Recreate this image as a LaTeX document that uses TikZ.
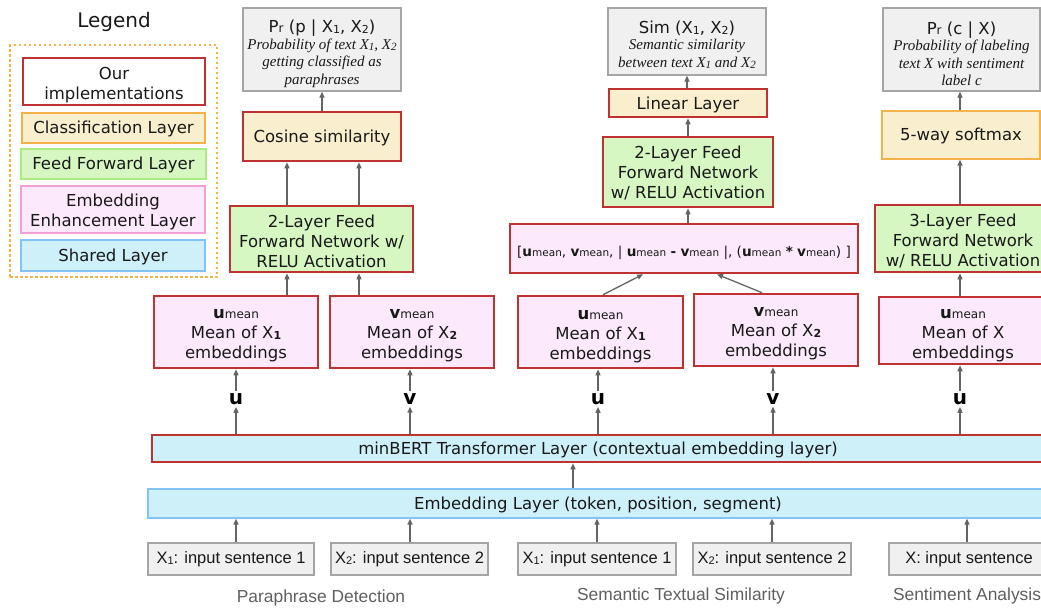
\documentclass[tikz,border=0pt]{standalone}
\usepackage{fontspec}
\setmainfont{DejaVu Sans}
\newfontfamily\arialf{Liberation Sans}
\newfontfamily\serifit{Liberation Serif}
\usetikzlibrary{arrows.meta}
\definecolor{redb}{RGB}{192,50,50}
\definecolor{clsf}{RGB}{249,238,206}
\definecolor{clsb}{RGB}{245,178,70}
\definecolor{fff}{RGB}{214,246,194}
\definecolor{ffb}{RGB}{170,235,130}
\definecolor{emf}{RGB}{253,233,252}
\definecolor{emb}{RGB}{240,160,210}
\definecolor{shf}{RGB}{206,240,249}
\definecolor{shb}{RGB}{130,195,245}
\definecolor{outf}{RGB}{240,240,240}
\definecolor{outb}{RGB}{165,165,165}
\definecolor{arrc}{RGB}{100,100,100}
\definecolor{textc}{RGB}{25,25,25}
\definecolor{taskc}{RGB}{95,95,95}
\newcommand\sbs[1]{\raisebox{-1pt}{\fontsize{11}{11}\selectfont #1}}
\newcommand\um{\textbf{u}{\fontsize{12}{12}\selectfont mean}}
\newcommand\vm{\textbf{v}{\fontsize{12}{12}\selectfont mean}}
\newcommand\umc{\textbf{u}{\fontsize{10.5}{10.5}\selectfont mean}}
\newcommand\vmc{\textbf{v}{\fontsize{10.5}{10.5}\selectfont mean}}
\newcommand\itl{\serifit\itshape\fontsize{15}{17.5}\selectfont}
\newcommand\up[1]{\rule{0pt}{#1}}
\begin{document}
\begin{tikzpicture}[x=1pt,y=-1pt,
  box/.style={rectangle, inner sep=0pt, align=center, text=textc, font=\fontsize{16.5}{20}\selectfont},
  ours/.style={draw=redb, line width=2.6pt},
  cls/.style={box, fill=clsf, draw=clsb, line width=1.3pt},
  ffn/.style={box, fill=fff, draw=ffb, line width=1.3pt},
  enh/.style={box, fill=emf, draw=emb, line width=1.3pt},
  shr/.style={box, fill=shf, draw=shb, line width=1.3pt},
  outbox/.style={box, fill=outf, draw=outb, line width=1.3pt, font=\fontsize{16.5}{17.5}\selectfont},
  inbox/.style={box, fill=outf, draw=outb, line width=1.3pt, font=\arialf\fontsize{16.5}{20}\selectfont},
  lbl/.style={inner sep=2pt, text=black, font=\bfseries\fontsize{20}{20}\selectfont},
  task/.style={text=taskc, font=\arialf\fontsize{17.4}{20}\selectfont},
  arr/.style={draw=arrc, line width=1.3pt, -{Triangle[length=6pt,width=5pt]}}
]
\useasboundingbox (0,0) rectangle (1041,608);

% ---------------- Legend
\node[text=textc, font=\fontsize{20}{24}\selectfont] (legt) at (114,22) {Legend};
\node[draw=clsb, line width=1.2pt, dash pattern=on 2.5pt off 2.5pt, minimum width=207pt, minimum height=232pt, inner sep=0pt] (legb) at (113.5,161) {};
\node[box, fill=white, ours, minimum width=182pt, minimum height=47pt] (l1) at (114,81.5) {\up{19pt}Our\\implementations};
\node[cls, minimum width=183pt, minimum height=30pt, text height=13pt, text depth=2pt] (l2) at (113.5,128) {Classification Layer};
\node[ffn, minimum width=185pt, minimum height=30pt, text height=13pt, text depth=2pt] (l3) at (113.5,164) {Feed Forward Layer};
\node[enh, minimum width=184pt, minimum height=47pt] (l4) at (113,209.5) {\up{18pt}Embedding\\Enhancement Layer};
\node[shr, minimum width=184pt, minimum height=31pt, text height=13pt, text depth=2pt] (l5) at (113,255.5) {Shared Layer};

% ---------------- Paraphrase detection
\node[outbox, minimum width=158pt, minimum height=83pt] (pout) at (322,49.5)
  {\up{21pt}P{\fontsize{12}{12}\selectfont r} (p | X\sbs{1}, X\sbs{2})\\[-1pt]
   {\itl Probability of text X\sbs{1}, X\sbs{2}}\\{\itl getting classified as}\\{\itl paraphrases}};
\node[cls, ours, minimum width=158pt, minimum height=49pt, text height=13pt, text depth=2pt] (pcos) at (322,136.5) {Cosine similarity};
\node[ffn, ours, minimum width=183pt, minimum height=66pt] (pffn) at (321.5,239) {\up{16.5pt}2-Layer Feed\\Forward Network w/\\RELU Activation};
\node[enh, ours, minimum width=164pt, minimum height=72pt] (pu) at (236,332) {\up{17pt}\um\\Mean of X\sbs{\textbf{1}}\\embeddings};
\node[enh, ours, minimum width=164pt, minimum height=72pt] (pv) at (412,332) {\up{17pt}\vm\\Mean of X\sbs{\textbf{2}}\\embeddings};
\node[lbl] (pul) at (236,399) {u};
\node[lbl] (pvl) at (410,399) {v};
\coordinate (pa1) at (287,0);
\coordinate (pa2) at (359,0);

% ---------------- Semantic textual similarity
\node[outbox, minimum width=158pt, minimum height=67pt] (sout) at (687,41.5)
  {\up{18.5pt}Sim (X\sbs{1}, X\sbs{2})\\[-1.5pt]{\itl Semantic similarity}\\{\itl between text X\sbs{1} and X\sbs{2}}};
\node[cls, ours, minimum width=158pt, minimum height=28pt, text height=13pt, text depth=1pt] (slin) at (688,103) {Linear Layer};
\node[ffn, ours, minimum width=170pt, minimum height=70pt] (sffn) at (688,172) {\up{15pt}2-Layer Feed\\Forward Network\\w/ RELU Activation};
\node[enh, ours, minimum width=348pt, minimum height=49pt, font=\fontsize{13.6}{16}\selectfont, text height=16pt, text depth=0pt] (scat) at (684,248.5)
  {[\umc, \vmc, | \umc\ \textbf{-} \vmc\ |, (\umc\ \textbf{*} \vmc) ]};
\node[enh, ours, minimum width=165pt, minimum height=72pt] (su) at (600.5,332) {\up{18pt}\um\\Mean of X\sbs{\textbf{1}}\\embeddings};
\node[enh, ours, minimum width=164pt, minimum height=72pt] (sv) at (776,330) {\up{17pt}\vm\\Mean of X\sbs{\textbf{2}}\\embeddings};
\node[lbl] (sul) at (598,399) {u};
\node[lbl] (svl) at (773,399) {v};
\coordinate (sa1) at (603,0);
\coordinate (sa2) at (643,0);
\coordinate (sa3) at (762,0);
\coordinate (sa4) at (717,0);

% ---------------- Sentiment analysis
\node[outbox, minimum width=157pt, minimum height=83pt] (tout) at (961.5,49.5)
  {\up{21pt}P{\fontsize{12}{12}\selectfont r} (c | X)\\[-1pt]{\itl Probability of labeling}\\{\itl text X with sentiment}\\{\itl label c}};
\node[cls, minimum width=158pt, minimum height=48pt, text height=13pt, text depth=2pt] (tsm) at (961,135) {5-way softmax};
\node[ffn, ours, minimum width=176pt, minimum height=67pt] (tffn) at (963,238.5) {\up{18pt}3-Layer Feed\\Forward Network\\w/ RELU Activation};
\node[enh, ours, minimum width=168pt, minimum height=67pt] (tu) at (963,330.5) {\up{19pt}\um\\Mean of X\\embeddings};
\node[lbl] (tul) at (960,399) {u};

% ---------------- Shared layers
\node[shr, ours, minimum width=892pt, minimum height=27pt, text height=13pt, text depth=2pt] (bert) at (598,448.5) {minBERT Transformer Layer (contextual embedding layer)};
\node[shr, minimum width=900pt, minimum height=29pt, text height=13pt, text depth=2pt] (emb) at (598,503.5) {Embedding Layer (token, position, segment)};
\coordinate (ea) at (573,0);

% ---------------- Inputs
\node[inbox, minimum width=166pt, minimum height=32pt] (in1) at (231,559) {X\sbs{1}: input sentence 1};
\node[inbox, minimum width=157pt, minimum height=32pt] (in2) at (409.5,559) {X\sbs{2}: input sentence 2};
\node[inbox, minimum width=158pt, minimum height=32pt] (in3) at (597,559) {X\sbs{1}: input sentence 1};
\node[inbox, minimum width=158pt, minimum height=32pt] (in4) at (772,559) {X\sbs{2}: input sentence 2};
\node[inbox, minimum width=160pt, minimum height=32pt] (in5) at (969,559) {X: input sentence};
\coordinate (ia1) at (236,0);
\coordinate (ia2) at (410,0);
\coordinate (ia3) at (597,0);
\coordinate (ia4) at (772,0);
\coordinate (ia5) at (967,0);

\node[task] (task1) at (321,598) {Paraphrase Detection};
\node[task] (task2) at (681,596) {Semantic Textual Similarity};
\node[task] (task3) at (967,596) {Sentiment Analysis};

% ---------------- Connectors
\draw[arr] (in1.north -| ia1) -- (emb.south -| ia1);
\draw[arr] (in2.north -| ia2) -- (emb.south -| ia2);
\draw[arr] (in3.north -| ia3) -- (emb.south -| ia3);
\draw[arr] (in4.north -| ia4) -- (emb.south -| ia4);
\draw[arr] (in5.north -| ia5) -- (emb.south -| ia5);
\draw[arr] (emb.north -| ea) -- (bert.south -| ea);

\foreach \l/\b in {pul/pu, pvl/pv, sul/su, svl/sv, tul/tu}{
  \draw[arr] (bert.north -| \l) -- (\l.south);
  \draw[arr] (\l.north) -- (\b.south -| \l);
}

\draw[arr] (pu.north -| pa1) -- (pffn.south -| pa1);
\draw[arr] (pv.north -| pa2) -- (pffn.south -| pa2);
\draw[arr] (pffn.north -| pa1) -- (pcos.south -| pa1);
\draw[arr] (pffn.north -| pa2) -- (pcos.south -| pa2);
\draw[arr] (pcos.north) -- (pout.south);

\draw[arr] (su.north -| sa1) -- (scat.south -| sa2);
\draw[arr] (sv.north -| sa3) -- (scat.south -| sa4);
\draw[arr] (scat.north -| sffn) -- (sffn.south);
\draw[arr] (sffn.north) -- (slin.south -| sffn);
\draw[arr] (slin.north -| sout) -- (sout.south);

\draw[arr] (tu.north -| tul) -- (tffn.south -| tul);
\draw[arr] (tffn.north -| tul) -- (tsm.south -| tul);
\draw[arr] (tsm.north -| tul) -- (tout.south -| tul);
\end{tikzpicture}
\end{document}
